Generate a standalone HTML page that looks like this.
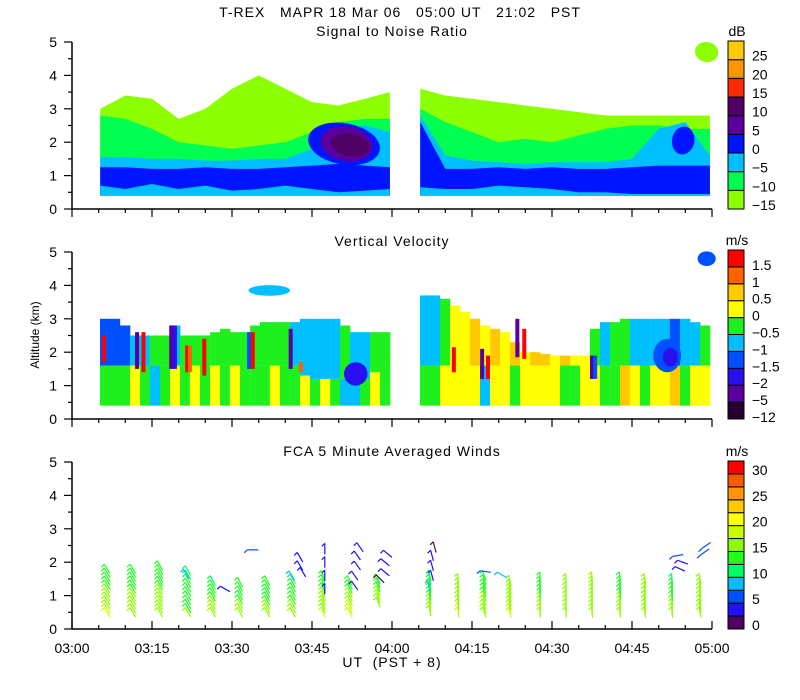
<!DOCTYPE html>
<html><head><meta charset="utf-8"><title>T-REX MAPR</title>
<style>
html,body{margin:0;padding:0;background:#fff;}
svg{display:block;font-family:"Liberation Sans",sans-serif;}
text{font-size:14px;fill:#000;}
.ttl{white-space:pre;letter-spacing:1px;}
</style></head>
<body>
<svg id="chart" width="800" height="700" viewBox="0 0 800 700" xmlns="http://www.w3.org/2000/svg">
<rect width="800" height="700" fill="#fff"/>
<text class="ttl" x="400" y="17" text-anchor="middle" xml:space="preserve">T-REX   MAPR 18 Mar 06   05:00 UT   21:02   PST</text>
<text class="ttl" x="392" y="36" text-anchor="middle">Signal to Noise Ratio</text>
<text class="ttl" x="392" y="246" text-anchor="middle">Vertical Velocity</text>
<text class="ttl" x="392" y="456" text-anchor="middle">FCA 5 Minute Averaged Winds</text>
<text x="0" y="0" transform="translate(39,335) rotate(-90)" text-anchor="middle" style="font-size:12px">Altitude (km)</text>
<text class="ttl" x="392" y="667" text-anchor="middle" xml:space="preserve">UT  (PST + 8)</text>
<g id="snr"></g>
<g id="vv"></g>
<g id="wind"></g>
<g id="axes"></g>
<g id="bars"></g>
</svg>
<script>
// ---------- data ----------
const xTickLabels=["03:00","03:15","03:30","03:45","04:00","04:15","04:30","04:45","05:00"];
const yTickLabels=["0","1","2","3","4","5"];
// SNR (dB) color scale
const snrColors=["#8cff00","#00ff50","#00bfff","#0014ff","#5a00a0","#500064","#ff2800","#ff9600","#ffc800"];
const snrBounds=[-15,-10,-5,0,5,10,15,20,25];
const snrLabels=["-15","-10","-5","0","5","10","15","20","25"];
// SNR layer tops (km) per time (min after 03:00)
const snrTimesA=[5.3,10,15,20,25,30,35,40,45,50,55,59.6];
const snrLimeA=[3.0,3.4,3.3,2.7,3.0,3.6,4.0,3.6,3.2,3.1,3.3,3.5];
const snrGreenA=[2.8,2.7,2.4,2.0,1.9,1.8,1.9,2.0,2.3,2.6,2.7,2.7];
const snrCyanA=[1.55,1.55,1.5,1.5,1.45,1.45,1.5,1.5,1.8,2.4,2.5,2.3];
const snrBlueA=[1.25,1.25,1.2,1.2,1.25,1.2,1.2,1.25,1.3,1.35,1.3,1.25];
const snrLowA=[0.7,0.6,0.75,0.6,0.7,0.55,0.6,0.7,0.6,0.5,0.55,0.6];
const snrTimesB=[65.3,70,75,80,85,90,95,100,105,110,115,119.6];
const snrLimeB=[3.6,3.4,3.3,3.2,3.1,3.0,2.9,2.8,2.8,2.8,2.8,2.8];
const snrGreenB=[3.0,2.6,2.3,2.0,2.1,2.0,2.2,2.4,2.5,2.5,2.4,2.4];
const snrCyanB=[2.8,1.6,1.45,1.4,1.35,1.4,1.4,1.4,1.5,2.4,2.6,1.6];
const snrBlueB=[2.6,1.2,1.2,1.25,1.2,1.25,1.2,1.2,1.25,1.3,1.3,1.3];
const snrLowB=[0.65,0.6,0.6,0.7,0.65,0.6,0.5,0.5,0.45,0.45,0.45,0.45];
const snrLayerVals=[-12,-7,-2,2];
// SNR blobs: time, km, half-width (min), half-height (km), dB
const snrBlobT=[51.0,51.5,52.1,114.6,119];
const snrBlobKm=[1.95,1.95,1.92,2.05,4.7];
const snrBlobRt=[6.8,4.9,3.7,2.1,2.2];
const snrBlobRk=[0.62,0.52,0.34,0.42,0.3];
const snrBlobV=[2,7,12,2,-12];
// Vertical velocity (m/s) color scale
const vvColors=["#280030","#5a00a0","#2a10f0","#0050ff","#00bfff","#1ef01e","#ffff00","#ffc800","#ff6000","#ff0000"];
const vvBounds=[-12,-5,-2,-1.5,-1,-0.5,0,0.5,1,1.5];
const vvLabels=["-12","-5","-2","-1.5","-1","-0.5","0","0.5","1","1.5"];
const vvTimesA=[5.25,7.1,9,10.9,12.75,14.6,16.5,18.4,20.25,22.1,24,25.9,27.75,29.6,31.5,33.4,35.25,37.1,39,40.9,42.75,44.6,46.5,48.4,50.25,52.1,54,55.9,57.75];
const vvTopA=[3.0,3.0,2.8,2.5,2.5,2.5,2.5,2.8,2.5,2.5,2.5,2.6,2.7,2.6,2.6,2.8,2.9,2.9,2.9,2.9,3.0,3.0,3.0,3.0,2.8,2.6,2.6,2.6,2.6];
const vvSplitA=[1.6,1.6,1.6,1.6,1.6,1.6,1.6,1.6,1.6,1.6,1.6,1.6,1.6,1.6,1.6,1.6,1.6,1.6,1.6,1.6,1.3,1.2,1.2,1.2,1.2,1.2,1.2,1.4,1.6];
const vvLowA=[-0.3,-0.3,-0.3,0.2,-0.3,-0.7,-0.3,0.2,-0.3,0.2,-0.3,0.2,-0.3,0.2,-0.3,-0.3,-0.3,0.2,-0.3,-0.3,0.2,-0.3,0.2,-0.3,-0.7,-0.7,-0.3,0.2,-0.3];
const vvUpA=[-1.2,-1.2,-1.2,-0.7,-0.7,-0.3,-0.3,-0.7,-0.3,-0.3,-0.3,-0.3,-0.3,-0.3,-0.3,-0.3,-0.3,-0.3,-0.3,-0.7,-0.7,-0.7,-0.7,-0.7,-0.3,-0.7,-0.7,-0.3,-0.3];
const vvTimesB=[65.25,67.1,69,70.9,72.75,74.6,76.5,78.4,80.25,82.1,84,85.9,87.75,89.6,91.5,93.4,95.25,97.1,99,100.9,102.75,104.6,106.5,108.4,110.25,112.1,114,115.9,117.75];
const vvTopB=[3.7,3.7,3.6,3.4,3.2,3.0,2.8,2.7,2.6,2.3,2.0,2.0,1.95,1.9,1.9,1.9,1.9,2.7,2.9,2.9,3.0,3.0,3.0,3.0,3.0,3.0,3.0,2.9,2.8];
const vvSplitB=[1.6,1.6,1.6,1.6,1.6,1.6,1.6,1.6,1.6,1.6,1.6,1.6,1.6,1.6,1.6,1.6,1.6,1.6,1.6,1.6,1.6,1.6,1.6,1.6,1.6,1.6,1.6,1.6,1.6];
const vvLowB=[-0.3,-0.3,0.2,0.2,0.2,0.3,-0.7,0.2,0.2,-0.3,0.2,0.3,0.3,0.2,-0.3,-0.3,0.2,0.2,-0.3,-0.3,0.6,0.2,-0.3,0.2,0.2,0.6,-0.3,0.2,0.2];
const vvUpB=[-0.7,-0.7,-0.3,0.2,0.2,0.6,0.2,0.6,0.2,0.6,0.2,0.6,0.6,0.2,0.6,0.2,0.2,-0.3,-0.7,-0.3,-0.3,-0.7,-0.7,-0.7,-0.7,-1.2,-0.7,-0.7,-0.3];
// narrow stripes: time, bottom km, top km, m/s
const vvStripeT=[12.2,13.4,18.6,19.3,21.6,22.1,24.8,33.2,33.9,41.0,42.9,6.0,71.6,76.9,78.0,83.5,84.8,97.5,98.1];
const vvStripeB=[1.5,1.4,1.5,1.5,1.4,1.4,1.3,1.5,1.5,1.5,1.4,1.7,1.4,1.2,1.2,1.85,1.8,1.2,1.2];
const vvStripeTop=[2.6,2.6,2.8,2.8,2.2,2.2,2.4,2.6,2.6,2.7,1.7,2.5,2.15,2.1,1.9,3.0,2.7,1.9,1.9];
const vvStripeV=[-3,1.6,-3,-1.8,1.6,1.2,1.6,-1.2,1.6,-3,1.2,1.6,1.6,-3,1.6,-3,1.6,-3,-1.2];
// blobs: time, km, half-width (min), half-height (km), m/s
const vvBlobT=[53.2,37.0,111.6,112.2,119.0];
const vvBlobKm=[1.35,3.85,1.9,1.85,4.8];
const vvBlobRt=[2.2,3.9,2.6,1.4,1.7];
const vvBlobRk=[0.35,0.16,0.5,0.28,0.22];
const vvBlobV=[-1.8,-0.7,-1.2,-1.8,-1.2];
// Winds (m/s)
const windColors=["#500060","#2010ff","#0050ff","#00bfff","#00ff64","#1eff1e","#8cff00","#c8ff00","#ffff00","#ffc800","#ff9600","#ff5a00","#ff0000"];
const windLabels=["0","5","10","15","20","25","30"];
const windTimes=[6.6,11.4,16.5,21.75,26.4,31.5,36.6,41.4,47.1,52.1,57.4,67.1,72.4,77.3,82.1,87.75,92.6,97.5,102.75,107.4,112.5,117.75];
const windTop=[1.8,1.8,1.9,1.75,1.45,1.4,1.45,1.5,1.6,1.45,1.5,1.6,1.5,1.6,1.45,1.55,1.5,1.55,1.55,1.5,1.5,1.5];
const windBottom=[0.5,0.5,0.5,0.5,0.5,0.5,0.5,0.5,0.5,0.5,0.8,0.55,0.5,0.5,0.5,0.5,0.5,0.5,0.5,0.5,0.5,0.5];
const windSpdTop=[13,13,13,12,12,13,13,12,13,13,13,12,15,13,15,13,15,17,13,15,12,15];
const windSpdBottom=[18,17,17,15,17,16,16,16,18,19,17,17,18,17,18,17,17,17,17,17,17,17];
const windDir=[58,60,62,60,62,64,62,62,70,65,70,80,84,72,78,86,86,85,84,82,84,80];
// isolated upper barbs: time, km, m/s, shaft angle
const upT=[33.9,28.7,42.75,42.75,43.3,47.4,47.4,47.4,47.4,53,53,53.5,53.5,54,58.7,58.7,59.2,57.8,67.5,67.5,67.5,68,66.9,77.5,80.6,114,114.5,113.6,118.6,118.9,21.4,41.2];
const upKm=[2.37,1.2,1.9,2.15,1.7,1.2,1.6,2.0,2.4,1.3,1.6,1.9,2.2,2.45,1.7,2.0,2.25,1.5,1.6,1.9,2.2,2.45,1.3,1.72,1.62,1.8,2.0,2.2,2.3,2.5,1.65,1.6];
const upSpd=[5,3,4,4,4,3,3,3,3,3,3,3,3,3,3,3,4,1,3,3,3,1,8,5,8,3,4,5,5,5,9,9];
const upDir=[0,30,60,60,60,90,90,90,90,55,55,55,55,55,40,40,40,45,75,75,75,75,80,8,30,25,20,-10,-35,-35,60,60];

// ---------- scales ----------
const panelBase=[209,419,629];
const pxPerKm=33.4;
function xOf(t){return 72+t*80/15;}
function yOf(p,km){return panelBase[p]-km*pxPerKm;}
const NS="http://www.w3.org/2000/svg";
function mk(tag,parent,attrs){const e=document.createElementNS(NS,tag);for(const k in attrs)e.setAttribute(k,attrs[k]);parent.appendChild(e);return e;}
function colorIdx(bounds,v){let i=0;for(let k=0;k<bounds.length;k++){if(v>=bounds[k])i=k;}return i;}

// ---------- SNR ----------
const snrG=document.getElementById('snr');
function area(p,times,tops,bottomKm,col,name,parent){
  let d="M"+xOf(times[0])+","+yOf(p,bottomKm);
  for(let i=0;i<times.length;i++)d+=" L"+xOf(times[i])+","+yOf(p,tops[i]);
  d+=" L"+xOf(times[times.length-1])+","+yOf(p,bottomKm)+" Z";
  const e=mk('path',parent,{d:d,fill:col});
  
  
}
[[snrTimesA,[snrLimeA,snrGreenA,snrCyanA,snrBlueA,snrLowA],'a'],[snrTimesB,[snrLimeB,snrGreenB,snrCyanB,snrBlueB,snrLowB],'b']].forEach(seg=>{
  const times=seg[0],layers=seg[1];
  for(let L=0;L<4;L++){
    area(0,times,layers[L],0.4,snrColors[colorIdx(snrBounds,snrLayerVals[L])],'snr-layer-'+seg[2]+L,snrG);
  }
  area(0,times,layers[4],0.4,snrColors[colorIdx(snrBounds,snrLayerVals[2])],'snr-low-layer-'+seg[2],snrG);
});
for(let i=0;i<snrBlobT.length;i++){
  const e=mk('ellipse',snrG,{cx:xOf(snrBlobT[i]),cy:yOf(0,snrBlobKm[i]),rx:snrBlobRt[i]*80/15,ry:snrBlobRk[i]*pxPerKm,fill:snrColors[colorIdx(snrBounds,snrBlobV[i])],transform:'rotate(10 '+xOf(snrBlobT[i])+' '+yOf(0,snrBlobKm[i])+')'});
  
  
}

// ---------- Vertical velocity ----------
const vvG=document.getElementById('vv');
[[vvTimesA,vvTopA,vvSplitA,vvLowA,vvUpA],[vvTimesB,vvTopB,vvSplitB,vvLowB,vvUpB]].forEach(seg=>{
  const [times,top,split,low,up]=seg;
  for(let i=0;i<times.length;i++){
    const x0=xOf(times[i]),w=10.3;
    const s=Math.min(split[i],top[i]);
    const r1=mk('rect',vvG,{x:x0,y:yOf(1,s),width:w,height:(s-0.4)*pxPerKm,fill:vvColors[colorIdx(vvBounds,low[i])]});
    
    
    if(top[i]>s){
      const r2=mk('rect',vvG,{x:x0,y:yOf(1,top[i]),width:w,height:(top[i]-s)*pxPerKm,fill:vvColors[colorIdx(vvBounds,up[i])]});
      
      
    }
  }
});
for(let i=0;i<vvBlobT.length;i++){
  const e=mk('ellipse',vvG,{cx:xOf(vvBlobT[i]),cy:yOf(1,vvBlobKm[i]),rx:vvBlobRt[i]*80/15,ry:vvBlobRk[i]*pxPerKm,fill:vvColors[colorIdx(vvBounds,vvBlobV[i])]});
  
  
}
for(let i=0;i<vvStripeT.length;i++){
  const e=mk('rect',vvG,{x:xOf(vvStripeT[i])-2,y:yOf(1,vvStripeTop[i]),width:4,height:(vvStripeTop[i]-vvStripeB[i])*pxPerKm,fill:vvColors[colorIdx(vvBounds,vvStripeV[i])]});
  
  
}

// ---------- Winds ----------
const wG=document.getElementById('wind');
function windCol(s){let i=Math.floor(s/2.5);if(i<0)i=0;if(i>12)i=12;return windColors[i];}
function barb(t,km,spd,ang,name){
  const x=xOf(t),y=yOf(2,km),a=ang*Math.PI/180,len=11;
  const dx=Math.cos(a)*len/2,dy=Math.sin(a)*len/2,c=windCol(spd);
  const g=mk('g',wG,{});
  
  
  mk('line',g,{x1:x-dx,y1:y-dy,x2:x+dx,y2:y+dy,stroke:c,'stroke-width':1.2});
  mk('line',g,{x1:x-dx,y1:y-dy,x2:x-dx-3,y2:y-dy+3,stroke:c,'stroke-width':1.2});
}
for(let i=0;i<windTimes.length;i++){
  const n=Math.max(2,Math.round((windTop[i]-windBottom[i])/0.12));
  for(let k=0;k<=n;k++){
    const f=k/n,km=windBottom[i]+(windTop[i]-windBottom[i])*f;
    barb(windTimes[i],km,windSpdBottom[i]+(windSpdTop[i]-windSpdBottom[i])*f,windDir[i],'wind-barb');
  }
}
for(let i=0;i<upT.length;i++)barb(upT[i],upKm[i],upSpd[i],upDir[i],'wind-barb-upper');

// ---------- axes ----------
const ax=document.getElementById('axes');
for(let p=0;p<3;p++){
  const b=panelBase[p],top=b-5*pxPerKm;
  let e=mk('line',ax,{x1:72,y1:top,x2:72,y2:b,stroke:'#000','stroke-width':1.5});
  
  
  e=mk('line',ax,{x1:72,y1:b,x2:712,y2:b,stroke:'#000','stroke-width':1.5});
  
  
  for(let k=0;k<=10;k++){
    const y=b-k*pxPerKm/2,len=k%2===0?8:4;
    mk('line',ax,{x1:72-len,y1:y,x2:72,y2:y,stroke:'#000','stroke-width':1.2});
    if(k%2===0){
      const tx=mk('text',ax,{x:57,y:y+5,'text-anchor':'end'});
      tx.textContent=yTickLabels[k/2];
      
      
    }
  }
  for(let m=0;m<=120;m+=5){
    const x=xOf(m),len=m%15===0?8:4,dir=p===2?-1:1;
    mk('line',ax,{x1:x,y1:b,x2:x,y2:b+dir*len,stroke:'#000','stroke-width':1.2});
  }
}
for(let i=0;i<xTickLabels.length;i++){
  const tx=mk('text',ax,{x:xOf(i*15),y:653,'text-anchor':'middle'});
  tx.textContent=xTickLabels[i];
  
  
}

// ---------- colorbars ----------
const bars=document.getElementById('bars');
function colorbar(colors,labels,top,bottom,unit,unitY,labelIdx,labelDy,name){
  const n=colors.length,h=(bottom-top)/n;
  for(let i=0;i<n;i++){
    const r=mk('rect',bars,{x:728,y:bottom-(i+1)*h,width:16,height:h,fill:colors[i],stroke:'#000','stroke-width':1});
    
    
  }
  for(let j=0;j<labels.length;j++){
    const tx=mk('text',bars,{x:752,y:bottom-labelIdx[j]*h+labelDy});
    tx.textContent=labels[j].replace('-','\u2212');
    
    
  }
  const u=mk('text',bars,{x:737,y:unitY,'text-anchor':'middle'});
  u.textContent=unit;
  
  
}
colorbar(snrColors,snrLabels,41,209,'dB',36,[0,1,2,3,4,5,6,7,8],1,'snr-colorbar');
colorbar(vvColors,vvLabels,250,419,'m/s',245,[0,1,2,3,4,5,6,7,8,9],3,'vv-colorbar');
colorbar(windColors,windLabels,461,629,'m/s',456,[0,2,4,6,8,10,12],1,'wind-colorbar');
</script>
</body></html>
